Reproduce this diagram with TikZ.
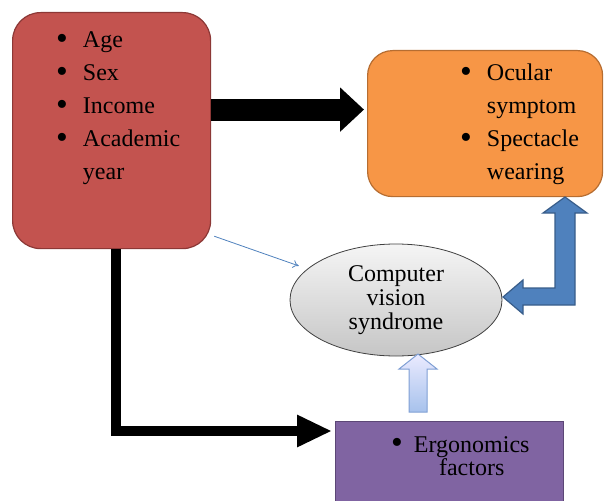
\documentclass[tikz,border=0pt]{standalone}
\usepackage{fontspec}
\setmainfont{Liberation Serif}
\usetikzlibrary{arrows.meta,shapes.geometric,positioning}

\definecolor{demofill}{HTML}{C3534F}
\definecolor{demoline}{HTML}{8C3836}
\definecolor{ocufill}{HTML}{F79646}
\definecolor{oculine}{HTML}{B66D31}
\definecolor{ergfill}{HTML}{8064A2}
\definecolor{ergline}{HTML}{5C4776}
\definecolor{blu}{HTML}{4F81BD}
\definecolor{bluline}{HTML}{385D8A}
\definecolor{paleblu}{HTML}{A7C2EC}
\definecolor{palebluline}{HTML}{7F9FD4}

\newcommand\bul{\raisebox{-1.5pt}{\scalebox{1.4}{\textbullet}}}

\begin{document}
\begin{tikzpicture}[x=1pt,y=-1pt,
    box/.style={draw,line width=1.2pt,inner sep=0pt,anchor=north west},
    txt/.style={anchor=base west,inner sep=0pt,font=\fontsize{24}{33}\selectfont},
    fatarrow/.style={line width=22pt,-{Triangle[length=24pt,width=43pt]}},
    elbowarrow/.style={line width=10pt,-{Triangle[length=35pt,width=30pt]}},
    thinarrow/.style={draw=blu,line width=0.8pt,-{To[length=6pt,width=8pt]}}]
  \path[use as bounding box] (0,0) rectangle (604,500);
  \clip (0,0) rectangle (604,500);

  % boxes
  \node[box,fill=demofill,draw=demoline,rounded corners=28pt,
        minimum width=198pt,minimum height=236pt] (demo) at (12,12) {};
  \node[box,fill=ocufill,draw=oculine,rounded corners=25pt,
        minimum width=235pt,minimum height=146pt] (ocular) at (367,50) {};
  \node[box,fill=ergfill,draw=ergline,
        minimum width=228pt,minimum height=100pt] (ergo) at (335,421) {};
  \node[ellipse,draw=black!75,line width=0.8pt,top color=gray!8,bottom color=gray!45,
        minimum width=212pt,minimum height=112pt,inner sep=0pt,align=center,
        font=\fontsize{24}{24}\selectfont] (cvs) at (396,300) {Computer\\vision\\syndrome};

  % texts
  \node[txt] (demotxt) at (56,48) {\begin{tabular}[t]{@{}l@{\hspace{15pt}}l@{}}
      \bul & Age\\ \bul & Sex\\ \bul & Income\\
      \bul & Academic\\ & year\end{tabular}};
  \node[txt] (ocutxt) at (460,81) {\begin{tabular}[t]{@{}l@{\hspace{15pt}}l@{}}
      \bul & Ocular\\ & symptom\\ \bul & Spectacle\\ & wearing\end{tabular}};
  \node[txt,font=\fontsize{24}{23}\selectfont] (ergtxt) at (391,452) {\begin{tabular}[t]{@{}l@{\hspace{11pt}}c@{}}
      \bul & Ergonomics\\ & factors\end{tabular}};

  % arrows
  \coordinate (r1) at ([yshift=21pt]demo.east);
  \draw[fatarrow,shorten >=3pt] (r1) -- (r1 -| ocular.west);
  \draw[elbowarrow,shorten >=3pt] ([xshift=4pt]demo.south) |- ([yshift=-10pt]ergo.north west);
  \draw[thinarrow,shorten >=9pt] ([shift={(3pt,13pt)}]demo.south east) -- (cvs);

  \draw[fill=blu,draw=bluline,line width=1.2pt]
    (565,197) -- (587,213) -- (575,213) -- (575,305) -- (523,305) -- (523,314)
    -- (503,297) -- (523,280) -- (523,288) -- (555,288) -- (555,213) -- (543,213) -- cycle;
  \draw[top color=blue!8,bottom color=paleblu,draw=palebluline,line width=1pt]
    (409,412) -- (409,369) -- (399,369) -- (418,354) -- (437,369) -- (427,369)
    -- (427,412) -- cycle;
\end{tikzpicture}
\end{document}
